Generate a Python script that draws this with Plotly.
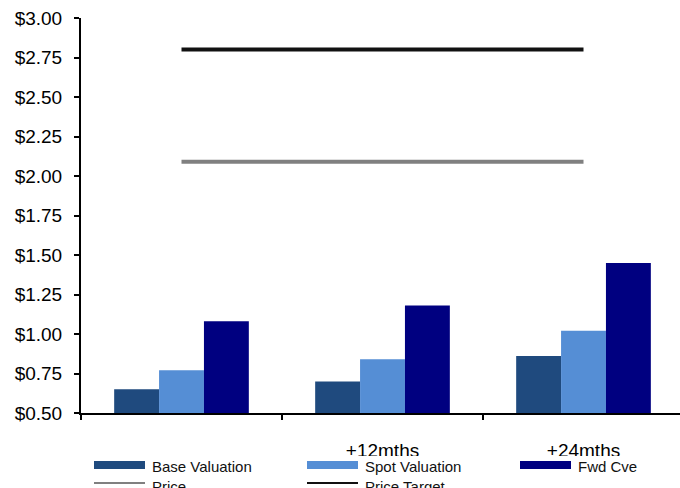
import plotly.graph_objects as go

# Horizon labels along the x axis (the first, current period is unlabelled)
periods = ["", "+12mths", "+24mths"]

# Valuation series ($ per share)
base_valuation = [0.65, 0.70, 0.86]
spot_valuation = [0.77, 0.84, 1.02]
fwd_cve = [1.08, 1.18, 1.45]

# Reference levels ($ per share)
price = [2.09, 2.09, 2.09]
price_target = [2.80, 2.80, 2.80]

# Y axis tick values
y_ticks = [0.50, 0.75, 1.00, 1.25, 1.50, 1.75, 2.00, 2.25, 2.50, 2.75, 3.00]

bar_series = [
    ("Base Valuation", base_valuation, "#1F4A7E"),
    ("Spot Valuation", spot_valuation, "#558ED5"),
    ("Fwd Cve", fwd_cve, "#000080"),
]
line_series = [
    ("Price", price, "#808080"),
    ("Price Target", price_target, "#111111"),
]

W, H = 680, 488
L, R, T, B = 81, 0, 18, 75
x_pos = list(range(len(periods)))

fig = go.Figure()
for name, vals, color in bar_series:
    fig.add_trace(go.Bar(x=x_pos, y=vals, name=name, marker=dict(color=color, line=dict(width=0)),
                         showlegend=False))
for name, vals, color in line_series:
    fig.add_trace(go.Scatter(x=x_pos, y=vals, name=name, mode="lines",
                             line=dict(color=color, width=4), showlegend=False))

# Pixel -> paper helpers for the hand-built legend below the axis
pw, ph = W - L - R, H - T - B
def px_x(x):
    return (x - L) / pw
def px_y(y):
    return (H - B - y) / ph

shapes, annotations = [], []
# White legend box, laid over the bottom of the axis labels
shapes.append(dict(type="rect", xref="paper", yref="paper",
                   x0=px_x(85), x1=px_x(680), y0=px_y(456), y1=px_y(H + 2),
                   fillcolor="white", line=dict(width=0), layer="above"))
col_x = [94, 307, 520]
sw_w = 51
row1_y, row2_y = 465, 483
legend_font = dict(family="Liberation Sans, Arial, sans-serif", size=15, color="#111111")
for i, (name, _, color) in enumerate(bar_series):
    x0 = col_x[i]
    shapes.append(dict(type="rect", xref="paper", yref="paper",
                       x0=px_x(x0), x1=px_x(x0 + sw_w), y0=px_y(row1_y - 4), y1=px_y(row1_y + 4),
                       fillcolor=color, line=dict(width=0), layer="above"))
    annotations.append(dict(text=name, xref="paper", yref="paper", x=px_x(x0 + sw_w + 5),
                            y=px_y(row1_y + 1), xanchor="left", yanchor="middle",
                            showarrow=False, font=legend_font))
for i, (name, _, color) in enumerate(line_series):
    x0 = col_x[i]
    shapes.append(dict(type="line", xref="paper", yref="paper",
                       x0=px_x(x0), x1=px_x(x0 + sw_w), y0=px_y(row2_y), y1=px_y(row2_y),
                       line=dict(color=color, width=2), layer="above"))
    annotations.append(dict(text=name, xref="paper", yref="paper", x=px_x(x0 + sw_w + 5),
                            y=px_y(row2_y + 3), xanchor="left", yanchor="middle",
                            showarrow=False, font=legend_font))

axis_font = dict(family="Liberation Sans, Arial, sans-serif", size=19, color="#000000")

fig.update_layout(
    width=W, height=H,
    margin=dict(l=L, r=R, t=T, b=B, pad=0),
    paper_bgcolor="white", plot_bgcolor="white",
    barmode="group", bargap=0.33, bargroupgap=0,
    shapes=shapes, annotations=annotations,
    xaxis=dict(
        range=[-0.5, -0.5 + pw / 201.0],
        tickmode="array", tickvals=x_pos, ticktext=periods,
        ticks="", showgrid=False, zeroline=False,
        showline=True, linecolor="black", linewidth=2,
        tickfont=dict(family="Liberation Sans, Arial, sans-serif", size=19, color="#000000"),
        ticklabelstandoff=19,
        minor=dict(tickmode="linear", tick0=-0.5, dtick=1, ticks="outside",
                   ticklen=5, tickwidth=1.5, tickcolor="black", showgrid=False),
    ),
    yaxis=dict(
        range=[0.5, 3.0], tickmode="array", tickvals=y_ticks,
        tickformat="$.2f", ticks="outside", ticklen=5, tickwidth=1.5, tickcolor="black",
        showgrid=False, zeroline=False,
        showline=True, linecolor="black", linewidth=2,
        tickfont=axis_font, ticklabelstandoff=8,
    ),
)

fig.write_html("out.html")
